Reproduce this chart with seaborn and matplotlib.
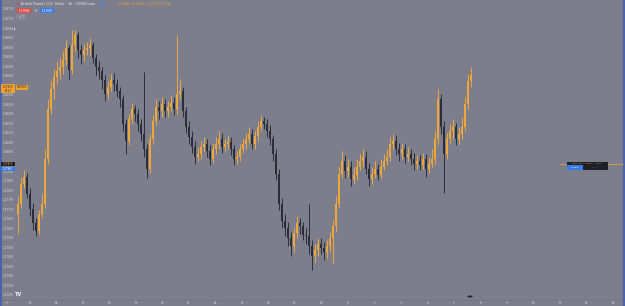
import numpy as np
import pandas as pd
import matplotlib
matplotlib.use("Agg")
import matplotlib.pyplot as plt
from matplotlib.patches import Rectangle, Circle
import seaborn as sns

# ---------------- data ----------------
first_open = 1.27677
closes = [
    1.27729, 1.27833, 1.27870, 1.27781, 1.27703, 1.27625, 1.27588, 1.27677, 1.27729, 1.27963,
    1.28224, 1.28328, 1.28391, 1.28422, 1.28443, 1.28484, 1.28547, 1.28432, 1.28563, 1.28615,
    1.28537, 1.28510, 1.28537, 1.28547, 1.28563, 1.28495, 1.28443, 1.28422, 1.28380, 1.28302,
    1.28339, 1.28380, 1.28354, 1.28318, 1.28276, 1.28146, 1.28057, 1.28172, 1.28224, 1.28198,
    1.28146, 1.28094, 1.28016, 1.27911, 1.28068, 1.28161, 1.28234, 1.28214, 1.28250, 1.28214,
    1.28234, 1.28255, 1.28224, 1.28302, 1.28318, 1.28214, 1.28130, 1.28078, 1.28026, 1.27974,
    1.27989, 1.28026, 1.28042, 1.28005, 1.27963, 1.28016, 1.28042, 1.28068, 1.28026, 1.28042,
    1.28052, 1.28016, 1.27963, 1.27974, 1.28016, 1.28042, 1.28068, 1.28094, 1.28042, 1.28083,
    1.28130, 1.28161, 1.28146, 1.28109, 1.28068, 1.27989, 1.27885, 1.27729, 1.27640, 1.27599,
    1.27547, 1.27505, 1.27573, 1.27625, 1.27609, 1.27567, 1.27557, 1.27505, 1.27453, 1.27484,
    1.27515, 1.27495, 1.27474, 1.27505, 1.27547, 1.27609, 1.27729, 1.27885, 1.27953, 1.27901,
    1.27922, 1.27859, 1.27880, 1.27922, 1.27953, 1.27974, 1.27911, 1.27859, 1.27885, 1.27911,
    1.27880, 1.27922, 1.27953, 1.27974, 1.28042, 1.28057, 1.28016, 1.27989, 1.28016, 1.27974,
    1.27989, 1.27963, 1.27937, 1.27953, 1.27932, 1.27963, 1.27911, 1.27937, 1.27963, 1.28068,
    1.28276, 1.28130, 1.27989, 1.28068, 1.28109, 1.28130, 1.28068, 1.28094, 1.28130, 1.28250,
    1.28370, 1.28406,
]
highs = [
    1.27767, 1.27861, 1.27903, 1.27887, 1.27809, 1.27731, 1.27653, 1.27695, 1.27778, 1.28017,
    1.28277, 1.28371, 1.28433, 1.28475, 1.28495, 1.28527, 1.28589, 1.28563, 1.28641, 1.28641,
    1.28631, 1.28563, 1.28568, 1.28579, 1.28599, 1.28579, 1.28516, 1.28475, 1.28443, 1.28402,
    1.28371, 1.28407, 1.28412, 1.28381, 1.28339, 1.28298, 1.28173, 1.28199, 1.28256, 1.28246,
    1.28225, 1.28173, 1.28417, 1.28043, 1.28095, 1.28194, 1.28277, 1.28267, 1.28287, 1.28277,
    1.28267, 1.28298, 1.28287, 1.28615, 1.28381, 1.28339, 1.28235, 1.28163, 1.28111, 1.28059,
    1.28027, 1.28059, 1.28079, 1.28069, 1.28038, 1.28048, 1.28079, 1.28111, 1.28100, 1.28069,
    1.28090, 1.28079, 1.28038, 1.28007, 1.28043, 1.28069, 1.28100, 1.28131, 1.28121, 1.28111,
    1.28163, 1.28194, 1.28183, 1.28173, 1.28142, 1.28090, 1.28017, 1.27913, 1.27757, 1.27674,
    1.27632, 1.27580, 1.27601, 1.27663, 1.27653, 1.27632, 1.27601, 1.27729, 1.27539, 1.27518,
    1.27549, 1.27549, 1.27528, 1.27539, 1.27580, 1.27643, 1.27767, 1.27923, 1.28007, 1.27986,
    1.27965, 1.27955, 1.27923, 1.27965, 1.27991, 1.28017, 1.28007, 1.27944, 1.27923, 1.27955,
    1.27939, 1.27965, 1.27991, 1.28017, 1.28079, 1.28095, 1.28090, 1.28048, 1.28048, 1.28043,
    1.28027, 1.28017, 1.27996, 1.27986, 1.27986, 1.27996, 1.27991, 1.27975, 1.28017, 1.28111,
    1.28329, 1.28303, 1.28163, 1.28100, 1.28147, 1.28173, 1.28152, 1.28131, 1.28183, 1.28287,
    1.28407, 1.28443,
]
lows = [
    1.27570, 1.27705, 1.27809, 1.27757, 1.27663, 1.27591, 1.27559, 1.27570, 1.27653, 1.27705,
    1.27939, 1.28199, 1.28277, 1.28355, 1.28381, 1.28407, 1.28454, 1.28381, 1.28407, 1.28527,
    1.28495, 1.28459, 1.28475, 1.28506, 1.28511, 1.28464, 1.28402, 1.28381, 1.28329, 1.28267,
    1.28277, 1.28319, 1.28319, 1.28287, 1.28235, 1.28111, 1.27991, 1.28038, 1.28147, 1.28163,
    1.28111, 1.28059, 1.27975, 1.27861, 1.27887, 1.28043, 1.28142, 1.28173, 1.28183, 1.28183,
    1.28183, 1.28215, 1.28194, 1.28199, 1.28277, 1.28183, 1.28100, 1.28043, 1.27996, 1.27939,
    1.27955, 1.27965, 1.28007, 1.27975, 1.27934, 1.27944, 1.27991, 1.28017, 1.27996, 1.28007,
    1.28017, 1.27986, 1.27934, 1.27939, 1.27955, 1.27996, 1.28017, 1.28048, 1.28017, 1.28017,
    1.28059, 1.28111, 1.28121, 1.28079, 1.28038, 1.27955, 1.27851, 1.27695, 1.27601, 1.27559,
    1.27507, 1.27455, 1.27476, 1.27549, 1.27570, 1.27539, 1.27518, 1.27466, 1.27383, 1.27424,
    1.27455, 1.27466, 1.27435, 1.27445, 1.27476, 1.27419, 1.27580, 1.27705, 1.27861, 1.27861,
    1.27871, 1.27819, 1.27830, 1.27851, 1.27903, 1.27923, 1.27882, 1.27819, 1.27830, 1.27861,
    1.27851, 1.27861, 1.27903, 1.27934, 1.27955, 1.28017, 1.27986, 1.27955, 1.27965, 1.27944,
    1.27955, 1.27934, 1.27903, 1.27913, 1.27903, 1.27913, 1.27871, 1.27887, 1.27923, 1.27939,
    1.28043, 1.28095, 1.27783, 1.27965, 1.28043, 1.28069, 1.28038, 1.28043, 1.28069, 1.28111,
    1.28225, 1.28339,
]
y_tick_values = [
    1.28750, 1.28700, 1.28650, 1.28600, 1.28550, 1.28500, 1.28450, 1.28400, 1.28350, 1.28300,
    1.28250, 1.28200, 1.28150, 1.28100, 1.28050, 1.28000, 1.27950, 1.27900, 1.27850, 1.27800,
    1.27750, 1.27700, 1.27650, 1.27600, 1.27550, 1.27500, 1.27450, 1.27400, 1.27350, 1.27300,
    1.27250,
]
x_labels = ["13", "14", "17", "18", "19", "20", "21", "24", "25", "26", "27", "28",
            "Jul", "2", "3", "4", "5", "8", "9", "10", "11", "12", "15"]
# tick labels hidden behind the price-label boxes on the left scale
covered_ticks = [1.28350, 1.27950]

# ---------------- style ----------------
W, H = 625, 306
BG = "#7c7f8b"
UP = "#f0a73a"
DOWN = "#2b2e37"
LABEL = "#d6d8df"

sns.set_theme(style="dark", rc={"axes.facecolor": BG, "figure.facecolor": BG,
                                "axes.grid": False})
plt.rcParams["font.family"] = ["DejaVu Sans"]

fig = plt.figure(figsize=(W / 100, H / 100), dpi=100)
ax = fig.add_axes([0, 0, 1, 1])
ax.set_facecolor(BG)

opens = [first_open] + closes[:-1]
df = pd.DataFrame({"open": opens, "high": highs, "low": lows, "close": closes})
df["idx"] = np.arange(len(df))
df["up"] = df["close"] >= df["open"]
colors = np.where(df["up"], UP, DOWN)

ax.vlines(df["idx"], df["low"], df["high"], colors=colors, linewidth=0.7, zorder=2)
body = (df["close"] - df["open"]).abs().clip(lower=0.00002)
ax.bar(df["idx"], body, bottom=df[["open", "close"]].min(axis=1), width=0.6,
       color=colors, linewidth=0, zorder=3)

ax.set_xlim(-6, 202.33)
ax.set_ylim(1.27192, 1.28797)
for s in ax.spines.values():
    s.set_visible(False)

ax.set_yticks(y_tick_values)
ax.set_yticklabels(["" if any(abs(v - c) < 1e-7 for c in covered_ticks) else f"{v:.5f}"
                    for v in y_tick_values], fontsize=2.0, color=LABEL)
ax.tick_params(axis="y", length=0, pad=-2.2)
for t in ax.get_yticklabels():
    t.set_ha("left")

day_step = 26.5 / 3
ax.set_xticks([4 + day_step * k for k in range(len(x_labels))])
ax.set_xticklabels(x_labels, fontsize=2.0, color=LABEL)
ax.tick_params(axis="x", length=0, pad=-3.4)


# ---------------- overlay helpers (pixel coords, y from top) ----------------
def rect(x, y, w, h, fc, ec="none", lw=0.0, z=10):
    fig.add_artist(Rectangle((x / W, 1 - (y + h) / H), w / W, h / H,
                             transform=fig.transFigure, facecolor=fc,
                             edgecolor=ec, linewidth=lw, zorder=z))


def txt(x, y, s, size=2.2, color=LABEL, ha="left", weight="normal", z=11):
    fig.text(x / W, 1 - y / H, s, fontsize=size, color=color, ha=ha,
             va="center", fontweight=weight, zorder=z)


# borders
rect(0, 0, 1.6, H, "#4b62b0")
rect(W - 1.6, 0, 1.6, H, "#4b62b0")
fig.add_artist(plt.Line2D([0, 1], [1 - 299.5 / H] * 2, transform=fig.transFigure,
                          color="#70737f", linewidth=0.5, zorder=9))

# header
fig.add_artist(Circle((18 / W, 1 - 4 / H), 1.6 / W, transform=fig.transFigure,
                      facecolor="#c0504a", edgecolor="none", zorder=11))
txt(21, 4, "British Pound / U.S. Dollar · 1h · FOREX.com", size=2.4, color="#eceef2")
rect(101, 2.5, 3, 3, "#4a82e0")
txt(118, 4, "O1.27864  H1.27870  L1.27858  C1.27866", size=1.8, color="#f0a030")
rect(17, 8, 14, 5, "#e04a4a")
txt(24, 10.5, "1.27864", size=2.0, color="white", ha="center")
txt(35.5, 10.5, "3.0", size=2.0, color="#e0e0e0", ha="center")
rect(40, 8, 14, 5, "#3a7be8")
txt(47, 10.5, "1.27867", size=2.0, color="white", ha="center")
rect(17, 15, 8, 4, BG, ec="#a8abb5", lw=0.3)
txt(21, 17, "≡ 0", size=1.8, color="#e0e0e0", ha="center")
rect(13.5, 27.5, 1.2, 2.5, "#f0f0f0")

# left price labels
rect(1.5, 84, 13.5, 9, "#f0a030")
txt(8, 86.5, "1.27870", size=1.8, color="#2a2a2a", ha="center")
txt(8, 90.5, "00:27", size=1.8, color="#2a2a2a", ha="center")
rect(16, 85, 12, 4.5, "#f0a030")
txt(22, 87.3, "GBPUSD", size=1.8, color="#2a2a2a", ha="center")
rect(1.5, 161.5, 13.5, 4.5, "#1e2028")
txt(8, 163.8, "1.27852", size=1.8, color="#f0a030", ha="center")
rect(1.5, 166.5, 13.5, 4.5, "#3a7be8")
txt(8, 168.8, "1.27867", size=1.8, color="white", ha="center")

# right-side marker
fig.add_artist(plt.Line2D([560 / W, 1], [1 - 163.5 / H] * 2, transform=fig.transFigure,
                          color="#f0a030", linewidth=0.5, zorder=9))
rect(567, 161.5, 41, 3.5, "#1e2028")
txt(587, 163.2, "GBPUSD  1.27852  ·  00:27", size=1.6, color="#f0a030", ha="center")
rect(567, 165, 16, 4.5, "#3a7be8")
txt(575, 167.2, "1.27867", size=1.6, color="white", ha="center")
rect(583, 165, 25, 4.5, "#1e2028")
txt(595.5, 167.2, "—  —", size=1.6, color="#c8c8c8", ha="center")

# bottom decorations
txt(19, 295, "TV", size=3.6, color="#f4f4f4", weight="bold", ha="center")
fig.add_artist(Circle((470 / W, 1 - 296.5 / H), 3 / W, transform=fig.transFigure,
                      facecolor="#262932", edgecolor="#9a9da8", linewidth=0.3, zorder=11))
fig.add_artist(Circle((7 / W, 1 - 302.5 / H), 2 / W, transform=fig.transFigure,
                      facecolor="#9a9da8", edgecolor="none", zorder=11))

fig.savefig("out.png", dpi=100, facecolor=BG)
